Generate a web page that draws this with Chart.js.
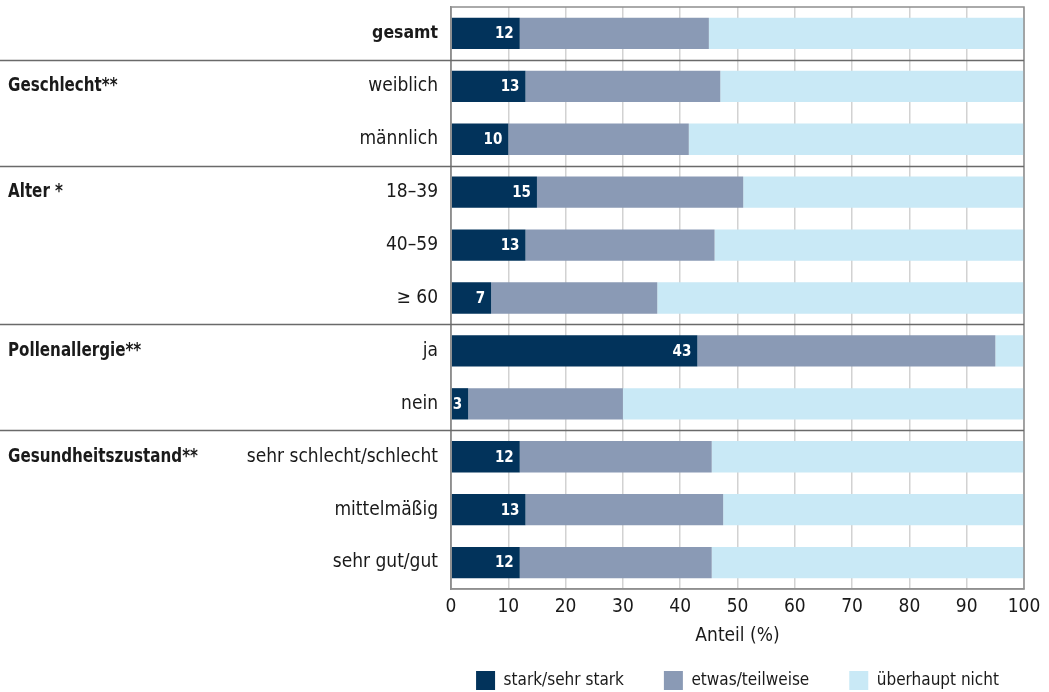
<!DOCTYPE html>
<html><head><meta charset="utf-8">
<script src="https://cdn.jsdelivr.net/npm/chart.js@4"></script>
<style>html,body{margin:0;padding:0;background:#fff}#wrap{width:1049px;height:692px}</style>
</head><body><div id="wrap"><canvas id="c" width="1049" height="692"></canvas></div>
<script>
const categories = ["gesamt","weiblich","männlich","18–39","40–59","≥ 60","ja","nein","sehr schlecht/schlecht","mittelmäßig","sehr gut/gut"];
const groupLabels = ["","Geschlecht**","","Alter *","","","Pollenallergie**","","Gesundheitszustand**","",""];
const groupStarts = [1,3,6,8];
const seriesNames = ["stark/sehr stark","etwas/teilweise","überhaupt nicht"];
const starkValues = [12,13,10,15,13,7,43,3,12,13,12];
const etwasValues = [33,34,31.5,36,33,29,52,27,33.5,34.5,33.5];
const nichtValues = [55,53,58.5,49,54,64,5,70,54.5,52.5,54.5];
const xAxisTitle = "Anteil (%)";

const FONT = '"DejaVu Sans Condensed","Liberation Sans Narrow",sans-serif';
const TXT = '#1a1a1a';
const LEGEND_PAD = 40;

const overlay = {
  id: 'overlay',
  afterLayout(chart) {
    // center legend under the plot area
    const lg = chart.legend, a = chart.chartArea;
    if (lg) { lg.left = a.left - LEGEND_PAD; lg.right = a.right + LEGEND_PAD; }
  },
  afterDraw(chart) {
    const ctx = chart.ctx, a = chart.chartArea, y = chart.scales.y;
    ctx.save();
    ctx.strokeStyle = '#8f8f8f'; ctx.lineWidth = 1.5;
    ctx.strokeRect(a.left, a.top, a.right - a.left, a.bottom - a.top);
    ctx.strokeStyle = '#6a6a6a'; ctx.lineWidth = 1.5;
    groupStarts.forEach(i => {
      const yy = Math.round((y.getPixelForValue(i - 1) + y.getPixelForValue(i)) / 2) + 0.5;
      ctx.beginPath(); ctx.moveTo(0, yy); ctx.lineTo(a.right, yy); ctx.stroke();
    });
    ctx.fillStyle = TXT; ctx.textAlign = 'left'; ctx.textBaseline = 'middle';
    ctx.font = 'bold 19px ' + FONT;
    groupLabels.forEach((g, i) => {
      if (!g) return;
      ctx.save();
      ctx.translate(8, y.getPixelForValue(i));
      ctx.scale(0.885, 1);
      ctx.fillText(g, 0, 0);
      ctx.restore();
    });
    const meta = chart.getDatasetMeta(0);
    ctx.fillStyle = '#ffffff'; ctx.textAlign = 'right';
    ctx.font = 'bold 15px ' + FONT;
    meta.data.forEach((bar, i) => { ctx.fillText(String(starkValues[i]), bar.x - 6, bar.y + 1); });
    ctx.restore();
  }
};

new Chart(document.getElementById('c'), {
  type: 'bar',
  data: {
    labels: categories,
    datasets: [
      {label: seriesNames[0], data: starkValues, backgroundColor: '#02335b'},
      {label: seriesNames[1], data: etwasValues, backgroundColor: '#8a9ab5'},
      {label: seriesNames[2], data: nichtValues, backgroundColor: '#c9e9f6'}
    ]
  },
  options: {
    indexAxis: 'y',
    responsive: false,
    animation: false,
    devicePixelRatio: 1,
    layout: {padding: {top: 7, right: 25, bottom: -8, left: 0}},
    datasets: {bar: {barPercentage: 0.74, categoryPercentage: 0.8, borderWidth: 0}},
    scales: {
      x: {
        stacked: true, min: 0, max: 100,
        ticks: {stepSize: 10, padding: 7, color: TXT, font: {family: FONT, size: 19}},
        grid: {color: '#d2d2d2', lineWidth: 1.5, drawTicks: false},
        border: {display: true, color: '#8f8f8f', width: 1.5},
        title: {display: true, text: xAxisTitle, color: TXT, font: {family: FONT, size: 19}, padding: {top: 0, bottom: -16}},
        afterFit(s) { s.height = 42; }
      },
      y: {
        stacked: true,
        ticks: {padding: 13, color: TXT, font: (c) => (c.index === 0 ? {family: FONT, size: 17.5, weight: 'bold'} : {family: FONT, size: 19, weight: 'normal'})},
        grid: {display: false, drawTicks: false},
        border: {display: true, color: '#8f8f8f', width: 1.5},
        afterFit(s) { s.width = 451; s.paddingTop = 0; s.paddingBottom = 0; }
      }
    },
    plugins: {
      legend: {
        position: 'bottom',
        labels: {boxWidth: 19, boxHeight: 19, padding: LEGEND_PAD, color: TXT, font: {family: FONT, size: 17}}
      },
      tooltip: {enabled: false}
    }
  },
  plugins: [overlay]
});
</script></body></html>
